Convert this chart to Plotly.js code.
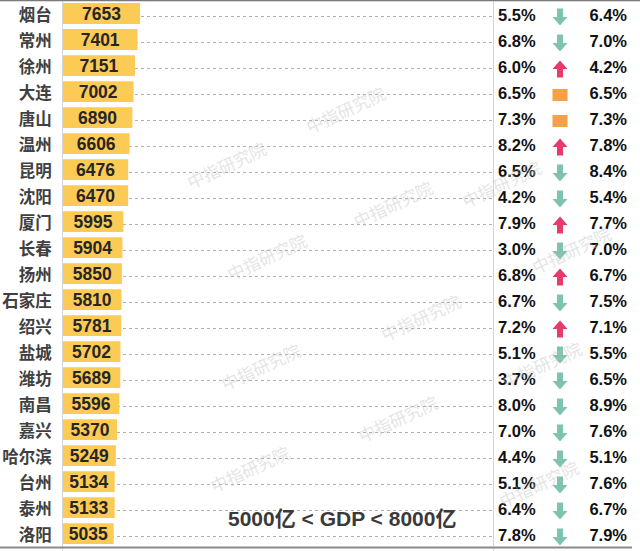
<!DOCTYPE html>
<html><head><meta charset="utf-8">
<script src="https://cdn.plot.ly/plotly-3.0.1.min.js"></script>
<style>html,body{margin:0;padding:0;background:#fff;}#chart{width:640px;height:551px;}</style>
</head><body><div id="chart"></div>
<script>
const cities = ['烟台','常州','徐州','大连','唐山','温州','昆明','沈阳','厦门','长春','扬州','石家庄','绍兴','盐城','潍坊','南昌','嘉兴','哈尔滨','台州','泰州','洛阳'];
const gdp = [7653,7401,7151,7002,6890,6606,6476,6470,5995,5904,5850,5810,5781,5702,5689,5596,5370,5249,5134,5133,5035];
const growthA = [5.5,6.8,6.0,6.5,7.3,8.2,6.5,4.2,7.9,3.0,6.8,6.7,7.2,5.1,3.7,8.0,7.0,4.4,5.1,6.4,7.8];
const growthB = [6.4,7.0,4.2,6.5,7.3,7.8,8.4,5.4,7.7,7.0,6.7,7.5,7.1,5.5,6.5,8.9,7.6,5.1,7.6,6.7,7.9];
const titleText = '5000亿 &lt; GDP &lt; 8000亿';
const watermark = '中指研究院';

const idx = cities.map((_, i) => i);
const fmt = v => v.toFixed(1) + '%';

// arrow glyph outlines (pixel offsets from centre, y downward)
const DOWN = [[-3,-8.5],[3,-8.5],[3,0],[7.5,0],[0,8.5],[-7.5,0],[-3,0],[-3,-8.5]];
const UP = DOWN.map(p => [p[0], -p[1]]);
const FLAT = [[-7.5,-6],[7.5,-6],[7.5,6],[-7.5,6],[-7.5,-6]];
const ROWPX = 26, ARROWX = 66;
function glyphs(kind) {
  const xs = [], ys = [];
  idx.forEach(i => {
    const d = growthA[i] - growthB[i];
    const k = d > 0 ? 'up' : (d < 0 ? 'down' : 'flat');
    if (k !== kind) return;
    const shape = k === 'up' ? UP : (k === 'down' ? DOWN : FLAT);
    shape.forEach(p => { xs.push(ARROWX + p[0]); ys.push(i + p[1] / ROWPX); });
    xs.push(null); ys.push(null);
  });
  return {xs, ys};
}
const gd = glyphs('down'), gu = glyphs('up'), gf = glyphs('flat');

const pctFont = {family: 'Liberation Sans, Arial, sans-serif', size: 16.5, color: '#111111', weight: 'bold'};

const traces = [
  {type: 'bar', orientation: 'h', y: idx, x: gdp, width: 0.8,
   marker: {color: '#FCCB55', line: {width: 0}},
   text: gdp.map(String), textposition: 'inside', insidetextanchor: 'middle',
   constraintext: 'none',
   textfont: {family: 'Liberation Sans, Arial, sans-serif', size: 17.5, color: '#262626', weight: 'bold'},
   xaxis: 'x', yaxis: 'y', hoverinfo: 'skip'},
  {type: 'scatter', mode: 'text', x: idx.map(() => 4), y: idx, text: growthA.map(fmt),
   textposition: 'middle right', textfont: pctFont, xaxis: 'x2', yaxis: 'y2', hoverinfo: 'skip'},
  {type: 'scatter', mode: 'text', x: idx.map(() => 133), y: idx, text: growthB.map(fmt),
   textposition: 'middle left', textfont: pctFont, xaxis: 'x2', yaxis: 'y2', hoverinfo: 'skip'},
  {type: 'scatter', mode: 'lines', x: gd.xs, y: gd.ys, fill: 'toself', fillcolor: '#7EC3AF',
   line: {width: 0, color: '#7EC3AF'}, xaxis: 'x2', yaxis: 'y2', hoverinfo: 'skip'},
  {type: 'scatter', mode: 'lines', x: gu.xs, y: gu.ys, fill: 'toself', fillcolor: '#E63B6B',
   line: {width: 0, color: '#E63B6B'}, xaxis: 'x2', yaxis: 'y2', hoverinfo: 'skip'},
  {type: 'scatter', mode: 'lines', x: gf.xs, y: gf.ys, fill: 'toself', fillcolor: '#F6A048',
   line: {width: 0, color: '#F6A048'}, xaxis: 'x2', yaxis: 'y2', hoverinfo: 'skip'}
];

const W = 640, H = 551, L = 63, PW = W - L;
const px = x => (x - L) / PW, py = y => 1 - y / H;
const wmPos = [[345,78],[180,133],[548,152],[393,203],[220,256],[618,250],[420,317],[260,366],[588,396],[397,450],[203,500],[585,515]];
const annotations = wmPos.map(p => ({
  xref: 'paper', yref: 'paper', x: px(p[0]), y: py(p[1]), text: watermark, showarrow: false,
  textangle: -25, font: {family: 'Noto Sans CJK SC', size: 17, color: 'rgba(190,190,190,0.42)', weight: 'normal'}
}));
annotations.push({xref: 'paper', yref: 'paper', x: px(342), y: py(518), text: titleText, showarrow: false,
  xanchor: 'center', yanchor: 'middle',
  font: {family: 'Liberation Sans, Noto Sans CJK SC, sans-serif', size: 21, color: '#3a3a3a', weight: 'bold'}});

const layout = {
  width: W, height: H, margin: {l: L, r: 0, t: 0, b: 0, pad: 0},
  paper_bgcolor: '#ffffff', plot_bgcolor: 'rgba(0,0,0,0)', showlegend: false,
  xaxis: {domain: [0, 431 / PW], range: [0, 42800], visible: false, fixedrange: true},
  yaxis: {domain: [0, 1], range: [20.67, -0.52], tickvals: idx, ticktext: cities, showgrid: false,
    zeroline: false, showline: true, linecolor: '#d4d4d4', linewidth: 1, ticks: '', ticklabelstandoff: 7,
    ticklabeloverflow: 'allow', ticklabelshift: -2,
    tickfont: {family: 'Noto Sans CJK SC', size: 16.5, color: '#404040', weight: 'bold'}},
  yaxis3: {overlaying: 'y', anchor: 'x', range: [20.54, -0.65], tickvals: idx, showticklabels: false,
    showgrid: true, griddash: 'dot', gridcolor: '#b0b0b0', gridwidth: 1, zeroline: false, ticks: '', showline: false},
  xaxis2: {domain: [431 / PW, 1], range: [0, 146], visible: false, fixedrange: true},
  yaxis2: {anchor: 'x2', domain: [0, 1], range: [20.54, -0.65], showticklabels: false, showgrid: false,
    zeroline: false, ticks: '', showline: true, linecolor: '#d4d4d4', linewidth: 1},
  shapes: [
    {type: 'line', xref: 'paper', yref: 'paper', x0: px(0), x1: px(640), y0: py(0.5), y1: py(0.5), line: {color: '#7a7a7a', width: 1.5}},
    {type: 'line', xref: 'paper', yref: 'paper', x0: px(0), x1: px(632), y0: py(547.5), y1: py(547.5), line: {color: '#8a8a8a', width: 2}}
  ],
  annotations: annotations
};
// invisible point so the grid axis is drawn
traces.push({type: 'scatter', mode: 'markers', x: [0], y: [0], xaxis: 'x', yaxis: 'y3', marker: {opacity: 0}, hoverinfo: 'skip'});

Plotly.newPlot('chart', traces, layout, {staticPlot: true, displayModeBar: false});
</script></body></html>
